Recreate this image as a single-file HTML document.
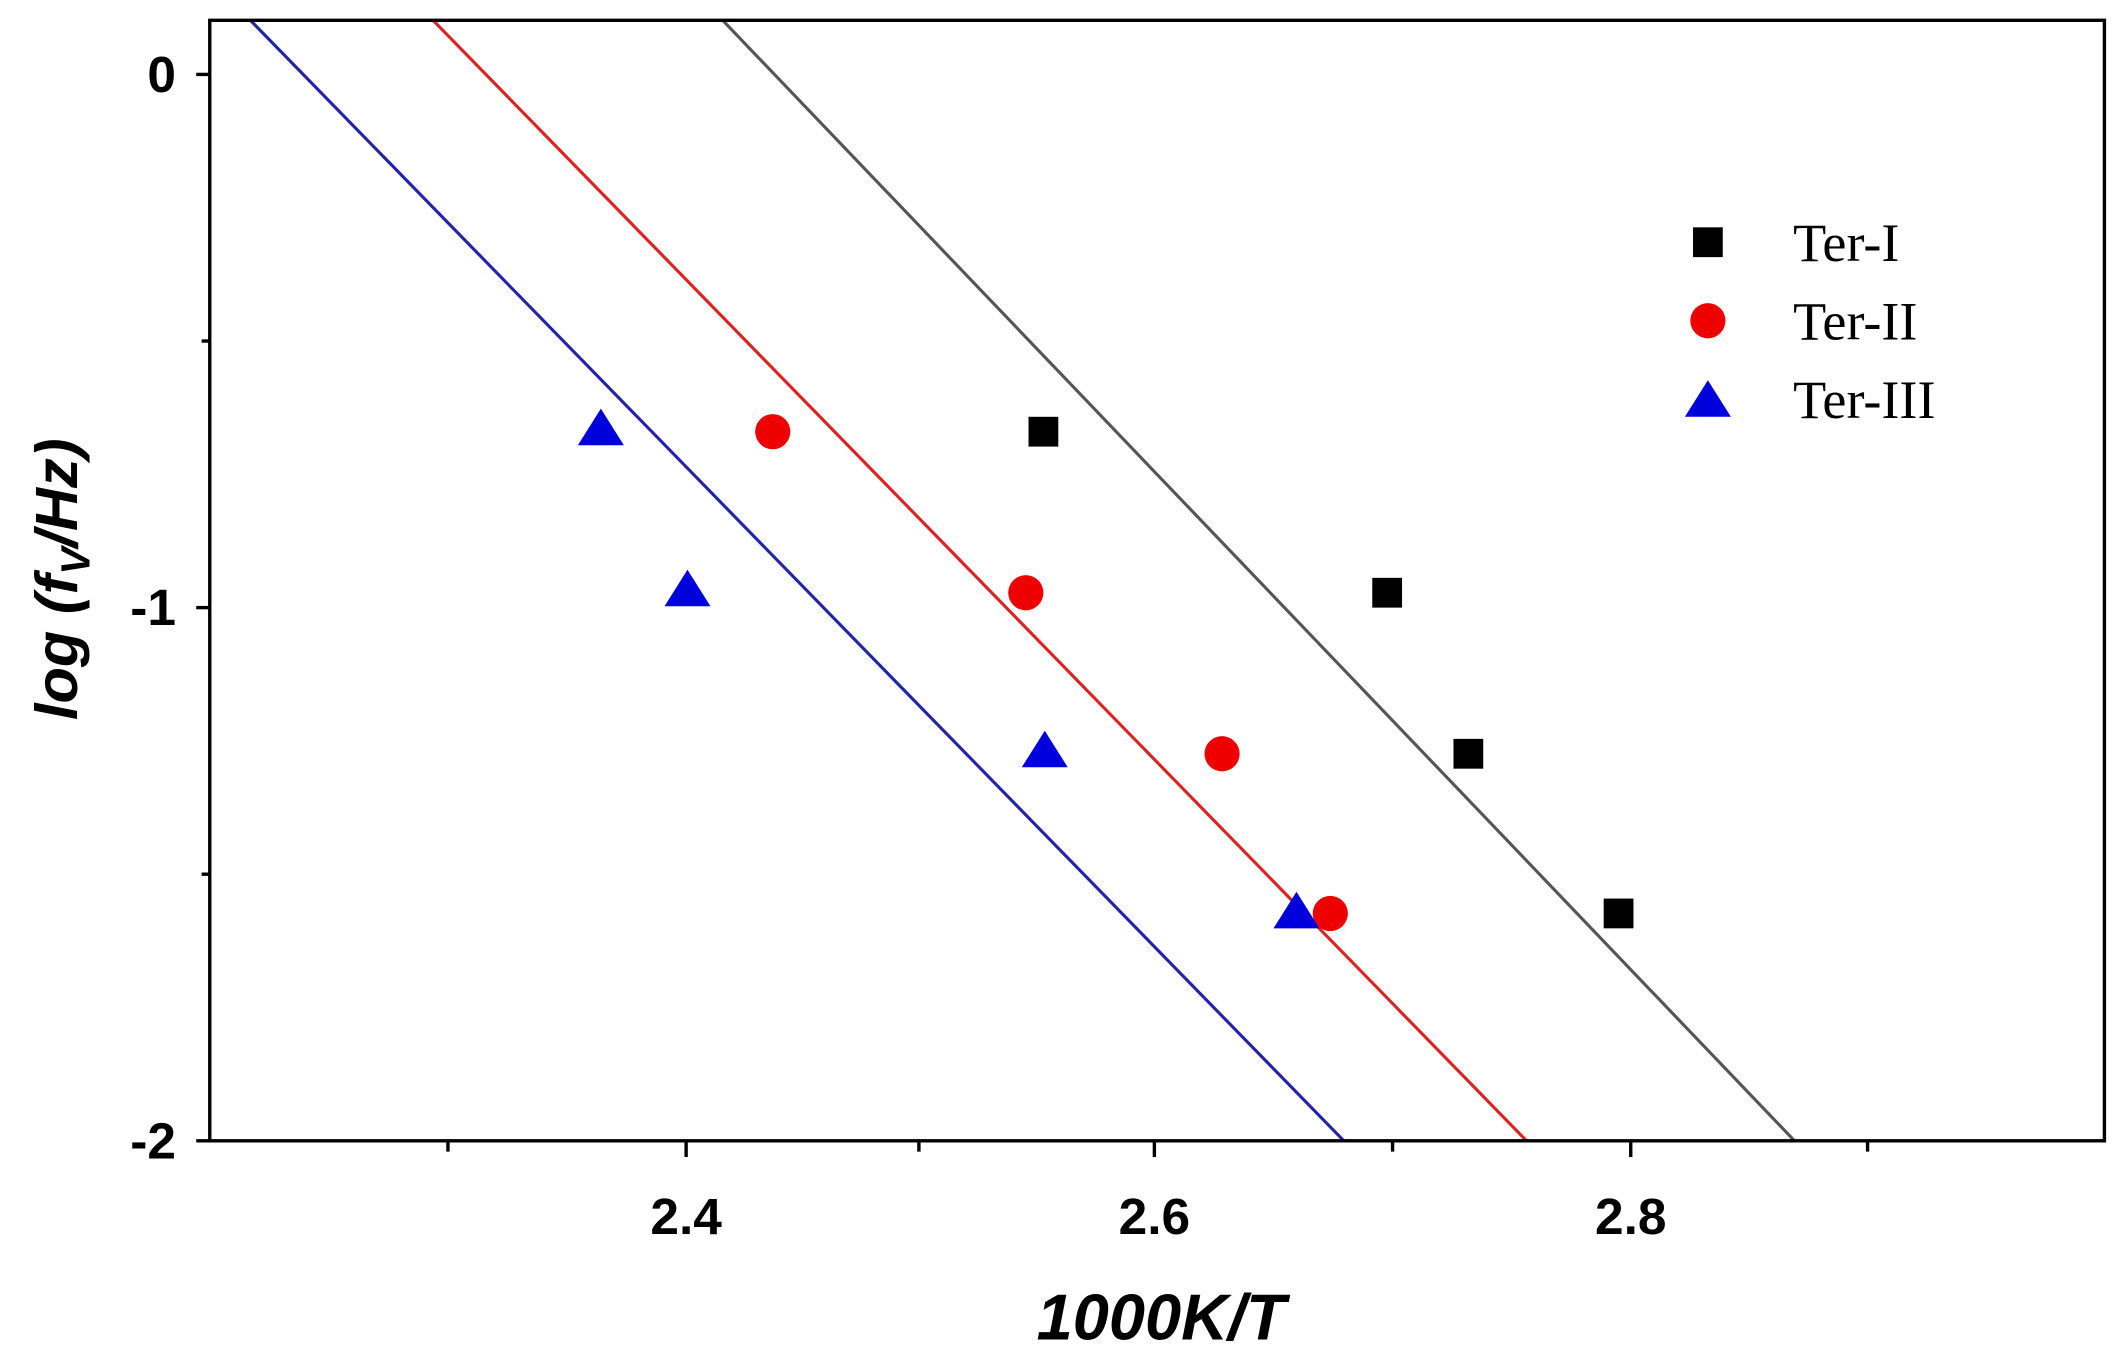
<!DOCTYPE html>
<html><head><meta charset="utf-8"><style>html,body{margin:0;padding:0;background:#fff}svg{display:block}</style></head>
<body>
<svg width="2122" height="1363" viewBox="0 0 1568 1007.2" preserveAspectRatio="none" xmlns="http://www.w3.org/2000/svg">
<rect width="1568" height="1007.2" fill="#fff"/>
<defs><clipPath id="c"><rect x="155" y="15" width="1400" height="828"/></clipPath></defs>
<g clip-path="url(#c)" stroke-width="2.3" fill="none">
<line x1="534" y1="15" x2="1326" y2="843" stroke="#555"/>
<line x1="320" y1="15" x2="1128" y2="843" stroke="#d22"/>
<line x1="185" y1="15" x2="993" y2="843" stroke="#22a"/>
</g>
<rect x="155" y="15" width="1400" height="828" fill="none" stroke="#000" stroke-width="2.5"/>
<g stroke="#000" stroke-width="2.5">
<line x1="145" y1="55" x2="155" y2="55"/><line x1="145" y1="449" x2="155" y2="449"/><line x1="145" y1="843" x2="155" y2="843"/>
<line x1="149" y1="252" x2="155" y2="252"/><line x1="149" y1="646" x2="155" y2="646"/>
<line x1="507" y1="843" x2="507" y2="855"/><line x1="853" y1="843" x2="853" y2="855"/><line x1="1205" y1="843" x2="1205" y2="855"/>
<line x1="331" y1="843" x2="331" y2="851"/><line x1="679" y1="843" x2="679" y2="851"/><line x1="1029" y1="843" x2="1029" y2="851"/><line x1="1380" y1="843" x2="1380" y2="851"/>
</g>
<g font-family="Liberation Sans, sans-serif" font-weight="bold" font-size="38" fill="#000">
<text x="130" y="68" text-anchor="end" transform="scale(1,1)">0</text>
<text x="130" y="462" text-anchor="end">-1</text>
<text x="130" y="856" text-anchor="end">-2</text>
<text x="507" y="912" text-anchor="middle">2.4</text>
<text x="853" y="912" text-anchor="middle">2.6</text>
<text x="1205" y="912" text-anchor="middle">2.8</text>
<text x="858" y="990" text-anchor="middle" font-style="italic" font-size="48">1000K/T</text>
<text transform="translate(57,428) rotate(-90)" text-anchor="middle" font-style="italic" font-size="44">log (f<tspan font-size="30" dy="9">V</tspan><tspan dy="-9">/Hz)</tspan></text>
</g>
<g fill="#000">
<rect x="760" y="308" width="22" height="22"/><rect x="1014" y="427" width="22" height="22"/><rect x="1074" y="546" width="22" height="22"/><rect x="1185" y="664" width="22" height="22"/>
<rect x="1251" y="168" width="22" height="22"/>
</g>
<g fill="#e00">
<circle cx="571" cy="319" r="13"/><circle cx="758" cy="438" r="13"/><circle cx="903" cy="557" r="13"/><circle cx="983" cy="675" r="13"/>
<circle cx="1262" cy="237" r="13"/>
</g>
<g fill="#00d">
<polygon points="444,302 461,329 427,329"/><polygon points="508,421 525,448 491,448"/><polygon points="772,540 789,567 755,567"/><polygon points="958,659 975,686 941,686"/>
<polygon points="1262,281 1279,308 1245,308"/>
</g>
<g font-family="Liberation Serif, serif" font-size="40" fill="#000">
<text x="1325" y="193">Ter-I</text>
<text x="1325" y="251">Ter-II</text>
<text x="1325" y="309">Ter-III</text>
</g>
</svg>
</body></html>
